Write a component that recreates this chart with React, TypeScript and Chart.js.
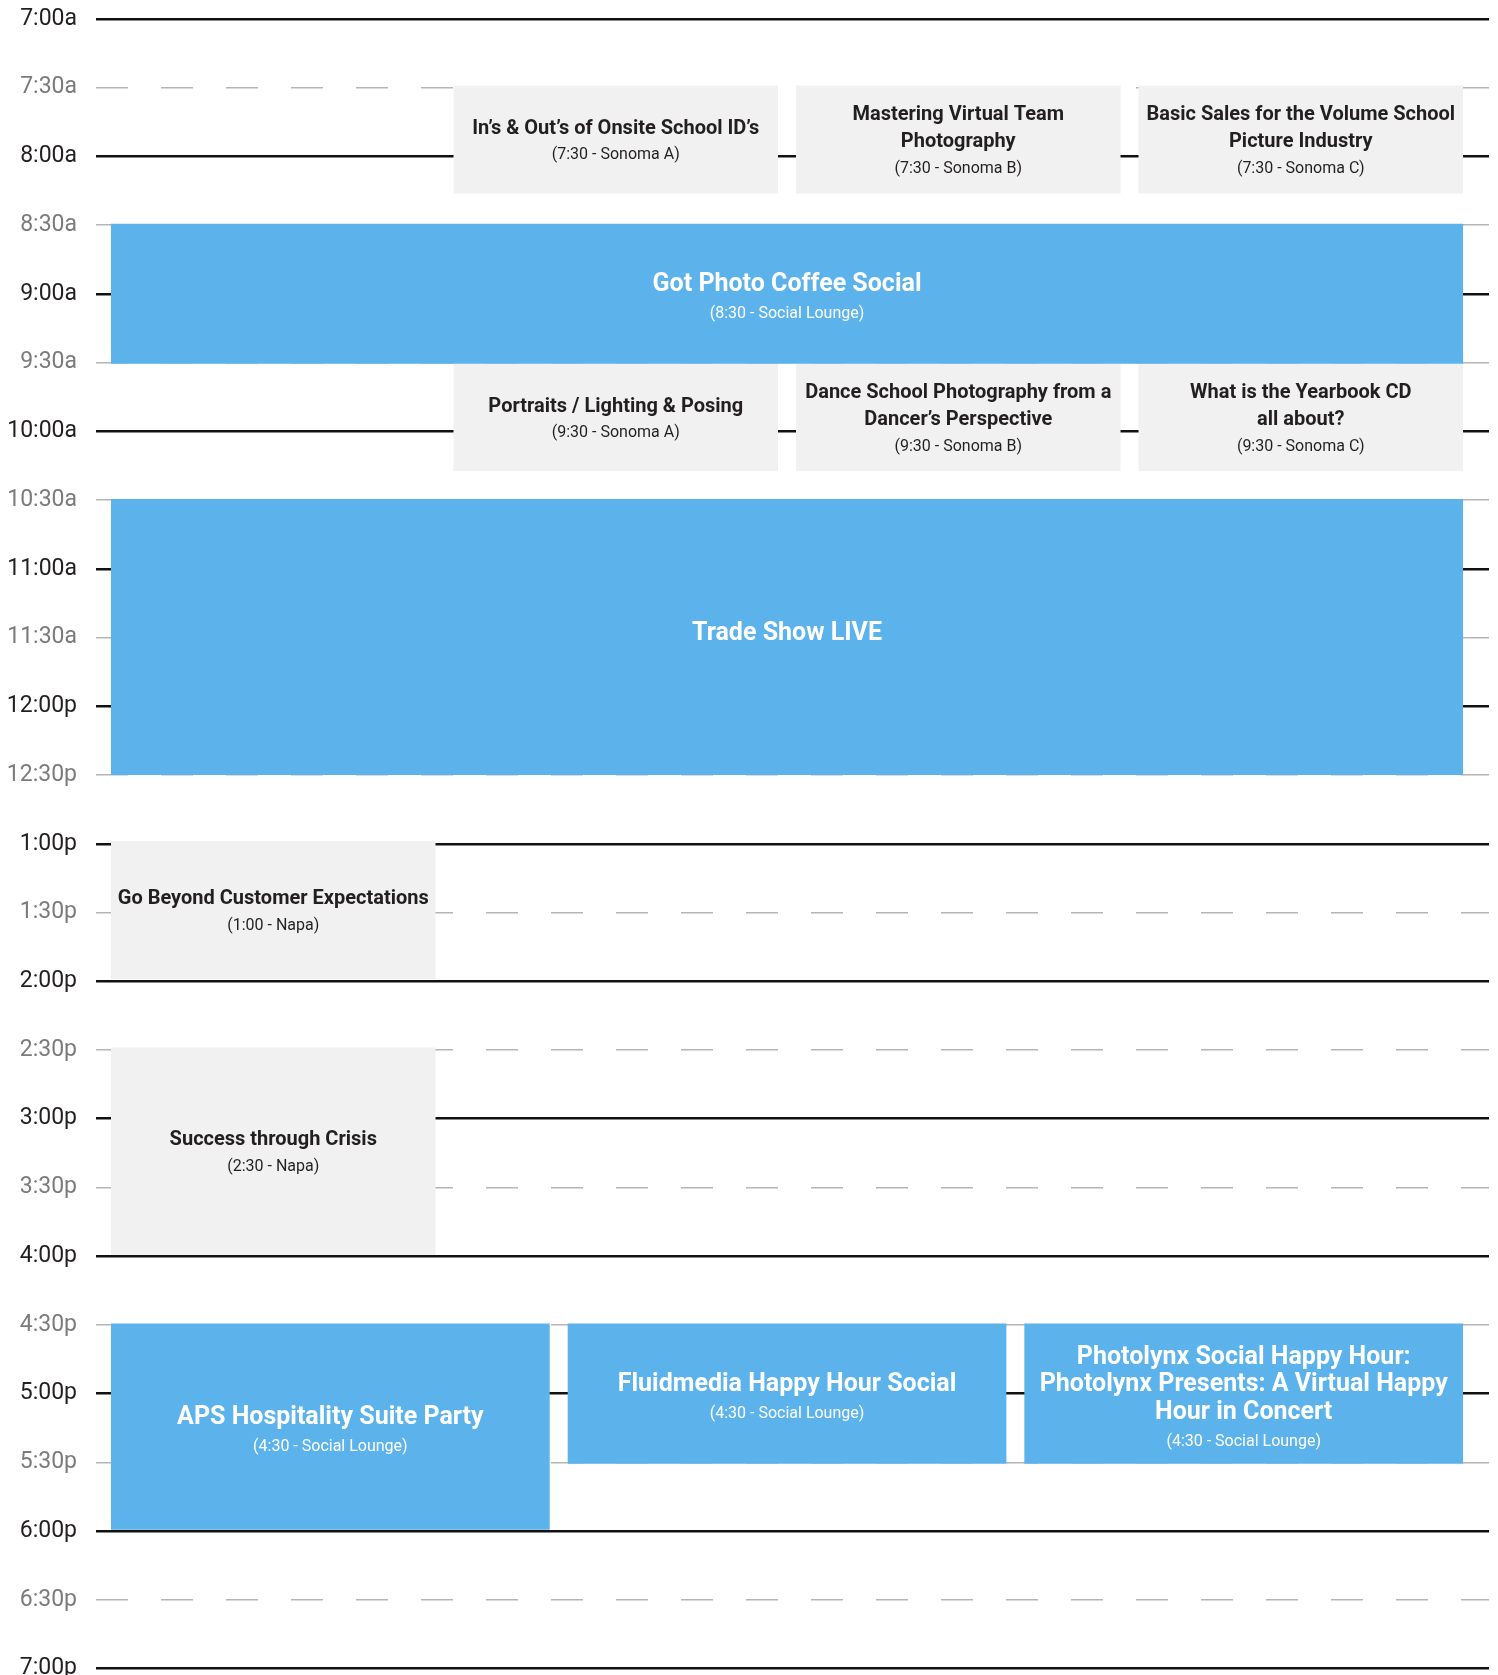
import React, { useEffect, useRef } from "react";
import { Chart, registerables } from "chart.js";

Chart.register(...registerables);

// ---------- data ----------
const tickLabels = [
  "7:00a", "7:30a", "8:00a", "8:30a", "9:00a", "9:30a", "10:00a", "10:30a",
  "11:00a", "11:30a", "12:00p", "12:30p", "1:00p", "1:30p", "2:00p", "2:30p",
  "3:00p", "3:30p", "4:00p", "4:30p", "5:00p", "5:30p", "6:00p", "6:30p", "7:00p",
];
const dayStart = 7;
const dayEnd = 19;
const tickStep = 0.5;

const eventTitles = [
  "In’s & Out’s of Onsite School ID’s",
  "Mastering Virtual Team\nPhotography",
  "Basic Sales for the Volume School\nPicture Industry",
  "Got Photo Coffee Social",
  "Portraits / Lighting & Posing",
  "Dance School Photography from a\nDancer’s Perspective",
  "What is the Yearbook CD\nall about?",
  "Trade Show LIVE",
  "Go Beyond Customer Expectations",
  "Success through Crisis",
  "APS Hospitality Suite Party",
  "Fluidmedia Happy Hour Social",
  "Photolynx Social Happy Hour:\nPhotolynx Presents: A Virtual Happy\nHour in Concert",
];
const eventDetails = [
  "(7:30 - Sonoma A)",
  "(7:30 - Sonoma B)",
  "(7:30 - Sonoma C)",
  "(8:30 - Social Lounge)",
  "(9:30 - Sonoma A)",
  "(9:30 - Sonoma B)",
  "(9:30 - Sonoma C)",
  "",
  "(1:00 - Napa)",
  "(2:30 - Napa)",
  "(4:30 - Social Lounge)",
  "(4:30 - Social Lounge)",
  "(4:30 - Social Lounge)",
];
// start / end in hours
const eventStarts = [7.484, 7.484, 7.484, 8.489, 9.508, 9.508, 9.508, 10.492, 12.98, 14.483, 16.49, 16.49, 16.49];
const eventEnds = [8.27, 8.27, 8.27, 9.508, 10.29, 10.29, 10.29, 12.5, 13.984, 15.99, 17.99, 17.51, 17.51];
const eventRowColumns = [4, 4, 4, 1, 4, 4, 4, 1, 4, 4, 3, 3, 3];
const eventColumnIndex = [1, 2, 3, 0, 1, 2, 3, 0, 0, 0, 0, 1, 2];
const eventKinds = [
  "session", "session", "session", "social", "session", "session", "session",
  "social", "session", "session", "social", "social", "social",
];

// ---------- styles / layout ----------
const TRACK_START = 0;
const TRACK_END = 100;
const TRACK_GAP = 1.33;
const X_MIN = -1.11;
const X_MAX = 101.92;

const SESSION_FILL = "#f1f1f1";
const SOCIAL_FILL = "#5cb3ec";
const DARK_TEXT = "#231f20";
const HALF_TEXT = "#7b7b7b";
const HOUR_LINE = "#111111";
const HALF_LINE = "#b5b5b5";
const FONT = "Roboto";

function columnSpan(i: number): [number, number] {
  const n = eventRowColumns[i];
  const w = (TRACK_END - TRACK_START - TRACK_GAP * (n - 1)) / n;
  const x0 = TRACK_START + eventColumnIndex[i] * (w + TRACK_GAP);
  return [x0, x0 + w];
}

function isHour(v: number) {
  return Math.abs(v - Math.round(v)) < 1e-6;
}

const labelPlugin = {
  id: "eventLabels",
  afterDatasetsDraw(chart: any) {
    const { ctx } = chart;
    const x = chart.scales.x;
    const y = chart.scales.y;
    eventTitles.forEach((title, i) => {
      const [a, b] = columnSpan(i);
      const cx = (x.getPixelForValue(a) + x.getPixelForValue(b)) / 2;
      const cy = (y.getPixelForValue(eventStarts[i]) + y.getPixelForValue(eventEnds[i])) / 2;
      const social = eventKinds[i] === "social";
      const lines = title.split("\n");
      const titleSize = social ? 25 : 20;
      const lh = social ? 27.5 : 27;
      const detail = eventDetails[i];
      const subGap = detail ? (social ? 29 : 26.5) : 0;
      const total = (lines.length - 1) * lh + subGap;
      const shift = detail ? (social ? 6 : 2.5) : -3;
      const top = cy - total / 2 + shift;
      ctx.save();
      ctx.textAlign = "center";
      ctx.textBaseline = "middle";
      ctx.fillStyle = social ? "#ffffff" : DARK_TEXT;
      ctx.font = `bold ${titleSize}px ${FONT}`;
      lines.forEach((line, k) => ctx.fillText(line, cx, top + k * lh));
      if (detail) {
        ctx.font = `16px ${FONT}`;
        ctx.fillText(detail, cx, top + (lines.length - 1) * lh + subGap);
      }
      ctx.restore();
    });
  },
};

export default function App() {
  const canvasRef = useRef<HTMLCanvasElement | null>(null);

  useEffect(() => {
    document.body.style.margin = "0";
    const canvas = canvasRef.current;
    if (!canvas) return;

    const datasets = eventTitles.map((title, i) => {
      const [a, b] = columnSpan(i);
      const color = eventKinds[i] === "social" ? SOCIAL_FILL : SESSION_FILL;
      return {
        label: title,
        data: [
          { x: a, y: eventStarts[i] },
          { x: b, y: eventStarts[i] },
          { x: b, y: eventEnds[i] },
          { x: a, y: eventEnds[i] },
        ],
        fill: "shape",
        backgroundColor: color,
        borderColor: "rgba(0,0,0,0)",
        borderWidth: 0,
        pointRadius: 0,
        pointHoverRadius: 0,
        tension: 0,
      };
    });

    const chart = new Chart(canvas, {
      type: "line",
      data: { datasets: datasets as any },
      plugins: [labelPlugin],
      options: {
        animation: false,
        responsive: false,
        devicePixelRatio: 1,
        events: [],
        layout: { padding: { top: 19, right: 9, bottom: 6.5, left: 0 } },
        plugins: {
          legend: { display: false },
          tooltip: { enabled: false },
        },
        scales: {
          x: {
            type: "linear",
            min: X_MIN,
            max: X_MAX,
            display: false,
          },
          y: {
            type: "linear",
            reverse: true,
            min: dayStart,
            max: dayEnd,
            afterFit: (scale: any) => {
              scale.width = 96;
              scale.paddingTop = 0;
              scale.paddingBottom = 0;
            },
            border: {
              display: false,
              dash: (c: any) => (c.tick && isHour(c.tick.value) ? [] : [32, 33]),
            },
            grid: {
              drawTicks: false,
              color: (c: any) => (c.tick && isHour(c.tick.value) ? HOUR_LINE : HALF_LINE),
              lineWidth: (c: any) => (c.tick && isHour(c.tick.value) ? 2.5 : 1.5),
            },
            ticks: {
              stepSize: tickStep,
              autoSkip: false,
              maxTicksLimit: 100,
              padding: 19,
              font: { family: FONT, size: 23 },
              color: (c: any) => (c.tick && isHour(c.tick.value) ? DARK_TEXT : HALF_TEXT),
              callback: (value: any) => {
                const idx = Math.round((Number(value) - dayStart) / tickStep);
                return tickLabels[idx] ?? "";
              },
            },
          },
        },
      } as any,
    });

    return () => chart.destroy();
  }, []);

  return (
    <div style={{ width: 1498, height: 1675, background: "#ffffff" }}>
      <canvas ref={canvasRef} width={1498} height={1675} style={{ display: "block" }} />
    </div>
  );
}
